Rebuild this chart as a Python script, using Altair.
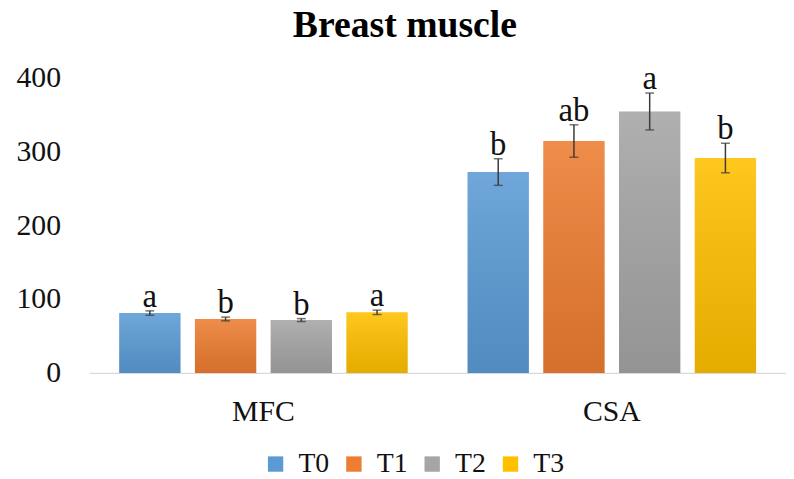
import altair as alt
import pandas as pd

groups = ["MFC", "CSA"]
treatments = ["T0", "T1", "T2", "T3"]
mfc_mean = [81, 73, 71.5, 82]
mfc_sd = [3, 2.5, 2, 3]
mfc_letters = ["a", "b", "b", "a"]
csa_mean = [272, 314, 354, 291]
csa_sd = [18, 22, 25, 20]
csa_letters = ["b", "ab", "a", "b"]
colors = ["#5B9BD5", "#ED7D31", "#A5A5A5", "#FFC000"]
y_ticks = [0, 100, 200, 300, 400]

rows = []
for g, means, sds, lets in [("MFC", mfc_mean, mfc_sd, mfc_letters),
                            ("CSA", csa_mean, csa_sd, csa_letters)]:
    for t, m, s, l in zip(treatments, means, sds, lets):
        rows.append(dict(group=g, treatment=t, mean=m, lo=m - s, hi=m + s, letter=l))
df = pd.DataFrame(rows)

FONT = "Liberation Serif"

x = alt.X("group:N", sort=groups,
          scale=alt.Scale(paddingInner=0, paddingOuter=0),
          axis=alt.Axis(title=None, labelAngle=0, labelFontSize=30, labelFont=FONT,
                        labelColor="#111111", domainColor="#D9D9D9", domainWidth=1.5,
                        ticks=False, labelPadding=24))
xo = alt.XOffset("treatment:N", sort=treatments,
                 scale=alt.Scale(paddingInner=0.19, paddingOuter=0.395))
y = alt.Y("mean:Q", scale=alt.Scale(domain=[0, 400]),
          axis=alt.Axis(title=None, values=y_ticks, grid=False, domain=False, ticks=False,
                        labelFontSize=30, labelFont=FONT, labelPadding=29,
                        labelColor="#111111"))

base = alt.Chart(df)

bars = base.mark_bar().encode(
    x=x, xOffset=xo, y=y,
    color=alt.Color("treatment:N", sort=treatments,
                    scale=alt.Scale(domain=treatments, range=colors),
                    legend=alt.Legend(orient="none", legendX=174, legendY=376,
                                      direction="horizontal", title=None,
                                      symbolType="square", symbolSize=240,
                                      symbolStrokeWidth=0, labelFontSize=28,
                                      labelFont=FONT, labelColor="#111111",
                                      labelOffset=9, columnPadding=10, padding=0)),
)

shade = base.mark_bar(
    fill=alt.Gradient(gradient="linear",
                      stops=[alt.GradientStop(color="rgba(255,255,255,0.12)", offset=0),
                             alt.GradientStop(color="rgba(0,0,0,0.10)", offset=1)],
                      x1=0, x2=0, y1=0, y2=1)
).encode(x=x, xOffset=xo, y=y)

rules = base.mark_rule(color="#3A3A3A", strokeWidth=1.5).encode(
    x=x, xOffset=xo, y="lo:Q", y2="hi:Q")
cap_hi = base.mark_tick(color="#3A3A3A", thickness=1.5, size=9, orient="horizontal").encode(
    x=x, xOffset=xo, y="hi:Q")
cap_lo = base.mark_tick(color="#3A3A3A", thickness=1.5, size=9, orient="horizontal").encode(
    x=x, xOffset=xo, y="lo:Q")
letters = base.mark_text(baseline="alphabetic", dy=-4, fontSize=33, font=FONT,
                         color="#111111").encode(
    x=x, xOffset=xo, y="hi:Q", text="letter:N")

chart = alt.layer(bars, shade, rules, cap_hi, cap_lo, letters).properties(
    width=703, height=298,
    padding={"left": 82, "top": 68, "right": 0, "bottom": 115},
    autosize=alt.AutoSizeParams(type="none"),
    title=alt.TitleParams("Breast muscle", font=FONT, fontSize=38, fontWeight="bold",
                          anchor="middle", dx=-33, offset=18, color="#000000"),
).configure_view(stroke=None)

chart.save("out.html", embed_options={"renderer": "svg", "actions": False})
